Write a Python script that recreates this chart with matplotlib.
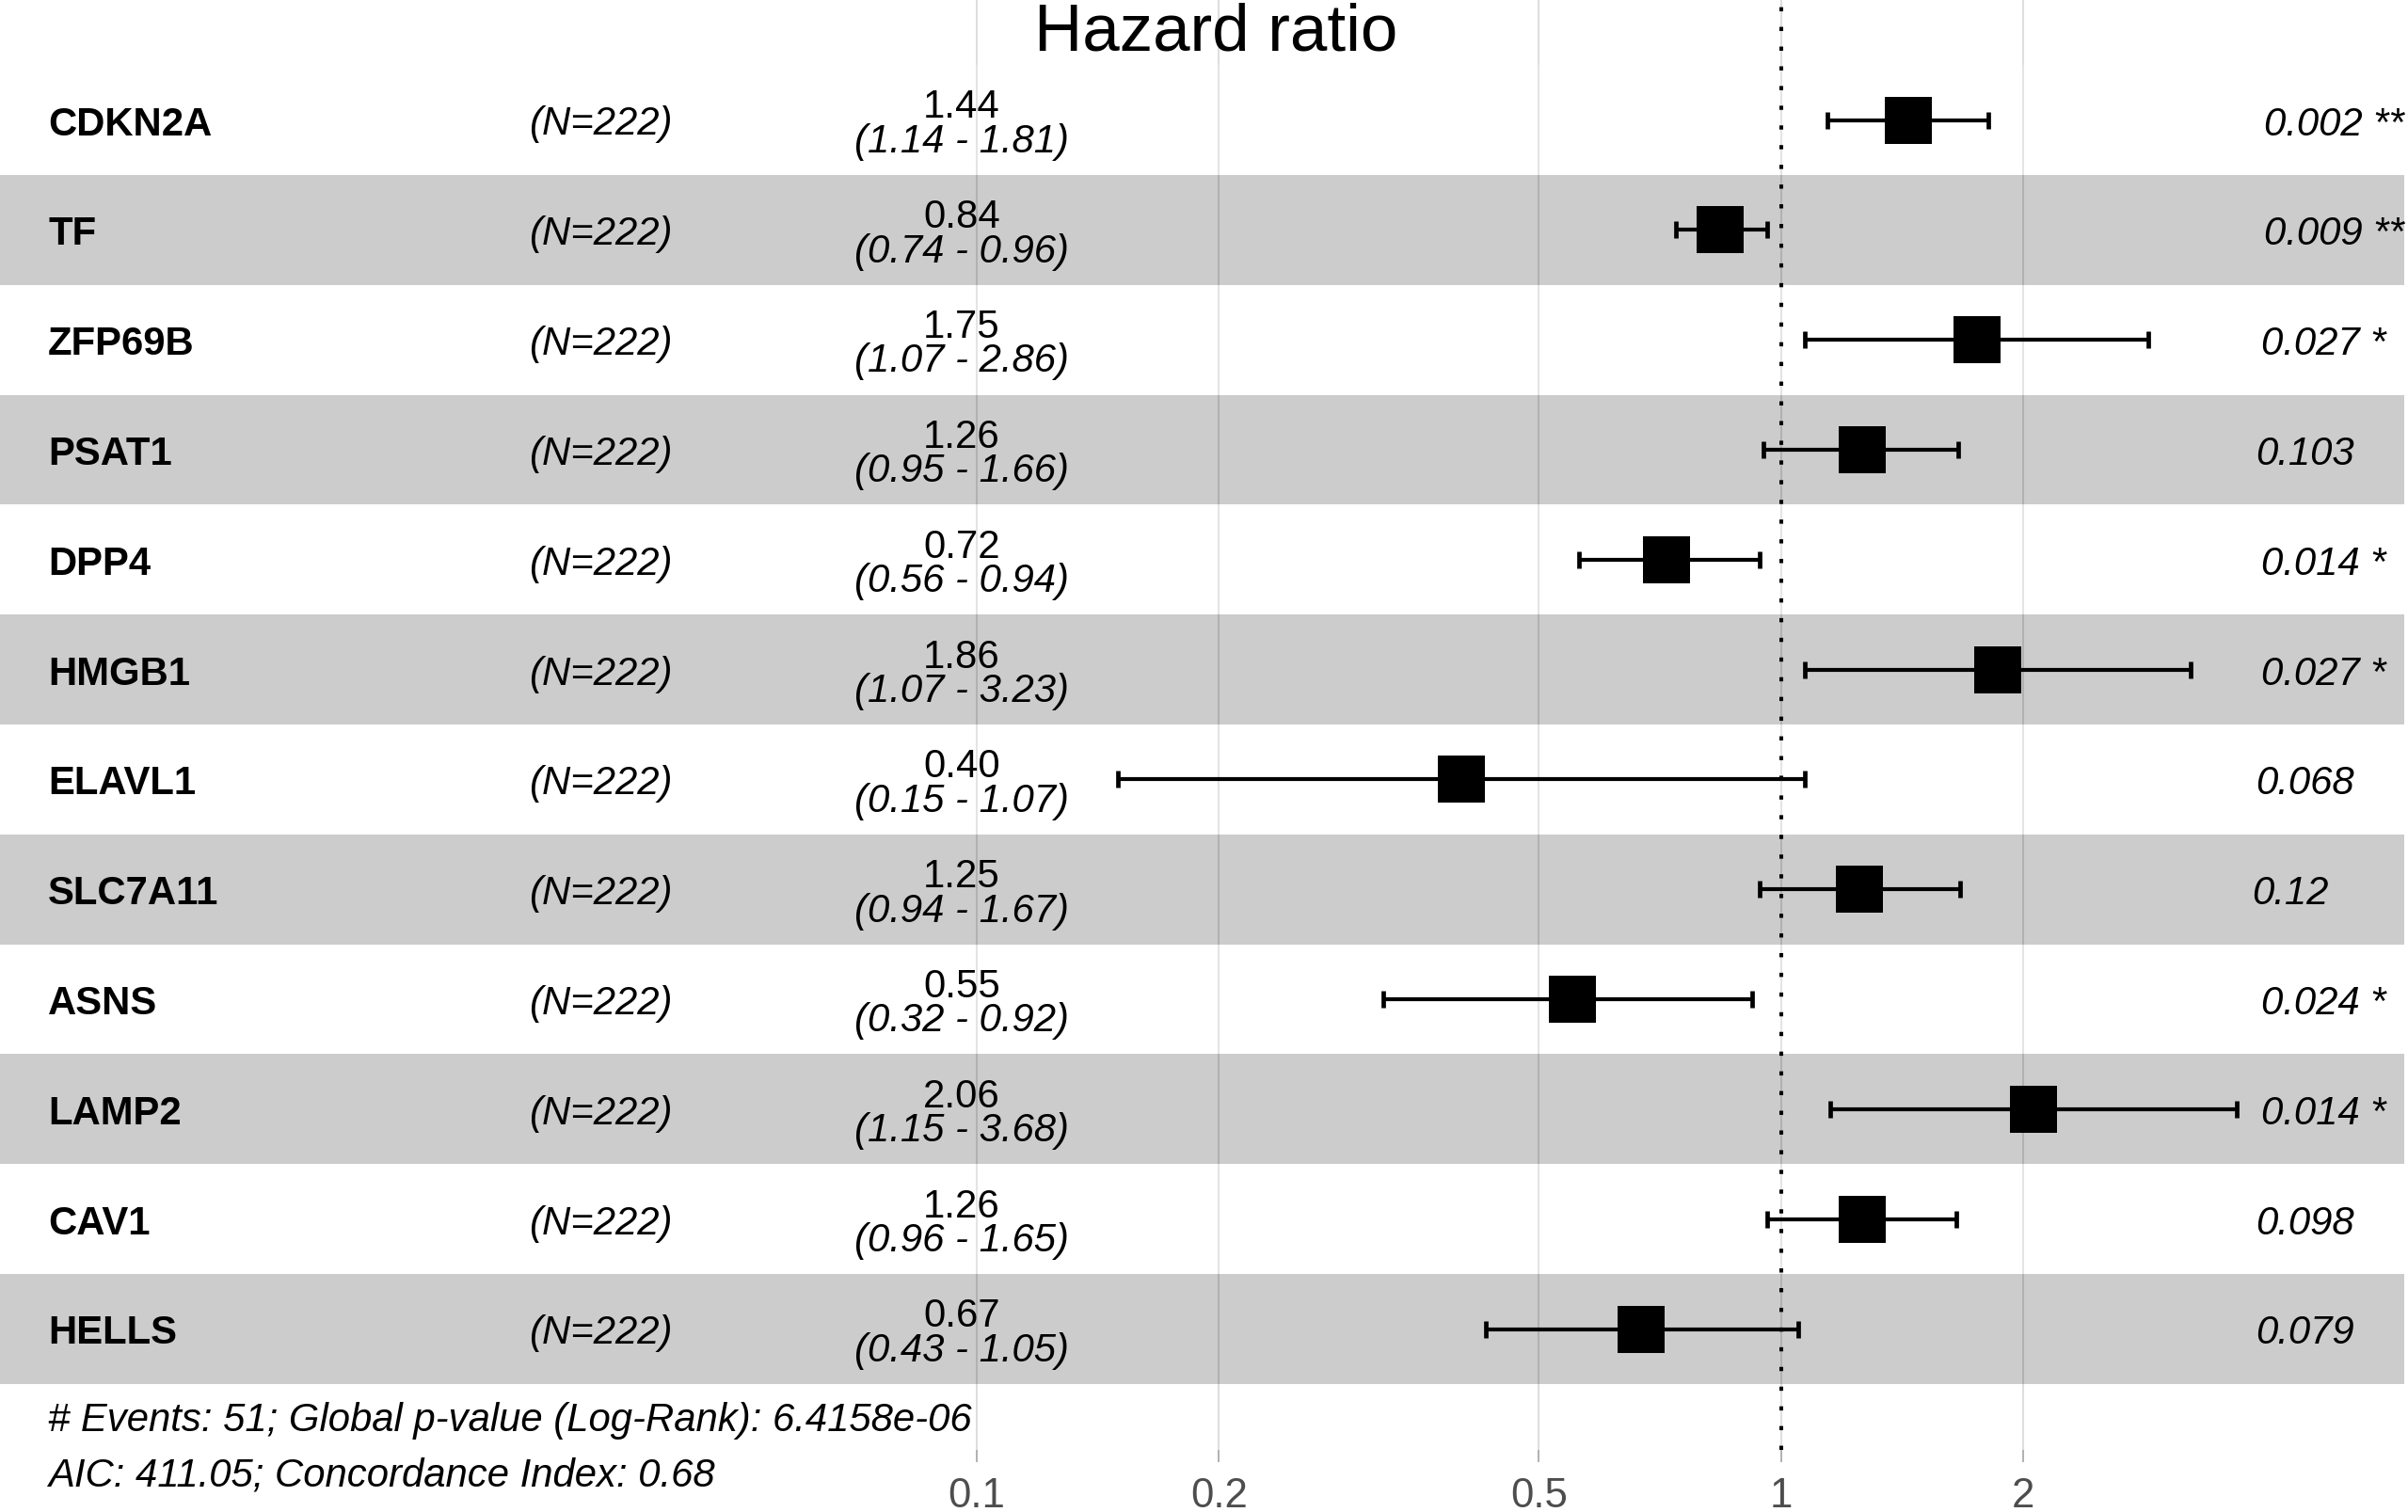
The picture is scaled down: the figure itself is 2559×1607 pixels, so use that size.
import numpy as np
import matplotlib
matplotlib.use('Agg')
import matplotlib.pyplot as plt
import matplotlib.transforms as mtransforms
from matplotlib.ticker import NullLocator

# cox model summary, rows top to bottom
genes = ['CDKN2A', 'TF', 'ZFP69B', 'PSAT1', 'DPP4', 'HMGB1',
         'ELAVL1', 'SLC7A11', 'ASNS', 'LAMP2', 'CAV1', 'HELLS']
n_obs = [222] * 12
hr = [1.44, 0.84, 1.75, 1.26, 0.72, 1.86, 0.40, 1.25, 0.55, 2.06, 1.26, 0.67]
ci_low = [1.14, 0.74, 1.07, 0.95, 0.56, 1.07, 0.15, 0.94, 0.32, 1.15, 0.96, 0.43]
ci_high = [1.81, 0.96, 2.86, 1.66, 0.94, 3.23, 1.07, 1.67, 0.92, 3.68, 1.65, 1.05]
p_values = ['0.002', '0.009', '0.027', '0.103', '0.014', '0.027',
            '0.068', '0.12', '0.024', '0.014', '0.098', '0.079']
stars = ['**', '**', '*', '', '*', '*', '', '', '*', '*', '', '']
tick_values = [0.1, 0.2, 0.5, 1, 2]
tick_labels = ['0.1', '0.2', '0.5', '1', '2']
n_events = 51
global_p = '6.4158e-06'
aic = 411.05
c_index = 0.68

plt.rcParams['font.family'] = ['Liberation Sans', 'DejaVu Sans']

DPI = 100
W, H = 2559, 1608
fig = plt.figure(figsize=(W / DPI, H / DPI), dpi=DPI)
ax = fig.add_axes([0, 66 / H, 2555 / W, 1 - 66 / H])
ax.set_xscale('log')

# x range built the way ggforest does it
log_lo = np.log10(min(ci_low))
log_hi = np.log10(max(ci_high))
span = log_hi - log_lo
x_left = log_lo - span
x_right = log_hi + 0.15 * span
ax.set_xlim(10 ** x_left, 10 ** x_right)

def col_x(frac):
    return 10 ** (x_left + frac * (x_right - x_left))

n = len(genes)
pos = np.arange(n, 0, -1)
ax.set_ylim(0.5 - 0.05 * n, n + 0.5 + 0.05 * n)

ax.set_xticks(tick_values)
ax.set_xticklabels(tick_labels)
ax.xaxis.set_minor_locator(NullLocator())
ax.set_yticks([])
ax.grid(axis='x', color='#DEDEDE', lw=1.45)
ax.set_axisbelow(True)
for s in ax.spines.values():
    s.set_visible(False)
ax.tick_params(axis='x', direction='out', length=9.4, width=1.45, color='#B3B3B3',
               labelcolor='#4D4D4D', labelsize=31.5, pad=11)

# alternating row bands
for i, p in enumerate(pos):
    c = '#FFFFFF' if i % 2 == 0 else '#000000'
    ax.axhspan(p - 0.5, p + 0.5, color=c, alpha=0.2, lw=0, zorder=1)

ax.axvline(1, color='black', lw=2.9, linestyle=(0, (1.1, 4.1)), zorder=2)

hr_a = np.array(hr)
err = [hr_a - np.array(ci_low), np.array(ci_high) - hr_a]
ax.errorbar(hr_a, pos, xerr=err, fmt='none', ecolor='black', elinewidth=3.0,
            capsize=6.5, capthick=3.4, zorder=3)
ax.plot(hr_a, pos, 's', ms=36, color='black', mew=0, zorder=4)

FS = 30.2
def shifted(dx=0, dy=0):
    return mtransforms.offset_copy(ax.transData, fig=fig, x=dx, y=dy, units='points')

p_texts = []
for i, p in enumerate(pos):
    ax.text(col_x(0.02), p, genes[i], fontsize=FS, fontweight='bold',
            ha='left', va='baseline', transform=shifted(dy=-10.8), zorder=5)
    ax.text(col_x(0.22), p, '(N=%d)' % n_obs[i], fontsize=FS, style='italic',
            ha='left', va='baseline', transform=shifted(dy=-10.8), zorder=5)
    ax.text(col_x(0.40), p, '%.2f' % hr[i], fontsize=FS,
            ha='center', va='baseline', transform=shifted(dy=2.2), zorder=5)
    ax.text(col_x(0.40), p, '(%.2f - %.2f)' % (ci_low[i], ci_high[i]), fontsize=FS,
            style='italic', ha='center', va='baseline', transform=shifted(dy=-24), zorder=5)
    lab = p_values[i] + (' ' + stars[i] if stars[i] else '')
    t = ax.text(10 ** log_hi, p, lab, fontsize=FS, style='italic', ha='left',
                va='baseline', transform=shifted(dy=-10.8), zorder=5, clip_on=False)
    p_texts.append((t, p))

# hjust = -0.2 for the p-value column
renderer = fig.canvas.get_renderer()
for t, p in p_texts:
    w = t.get_window_extent(renderer).width * 72 / DPI
    t.set_transform(shifted(dx=0.2 * w, dy=-10.8))

footer = ['# Events: %d; Global p-value (Log-Rank): %s' % (n_events, global_p),
          'AIC: %.2f; Concordance Index: %.2f' % (aic, c_index)]
for k, line in enumerate(footer):
    ax.text(col_x(0.02), 0.5, line, fontsize=FS, style='italic', ha='left',
            va='baseline', transform=shifted(dy=-35.5 - 42 * k), zorder=5, clip_on=False)

fig.text(1292 / W, 1 - 53 / H, 'Hazard ratio', fontsize=51, ha='center', va='baseline')

fig.savefig('out.png', dpi=DPI)
